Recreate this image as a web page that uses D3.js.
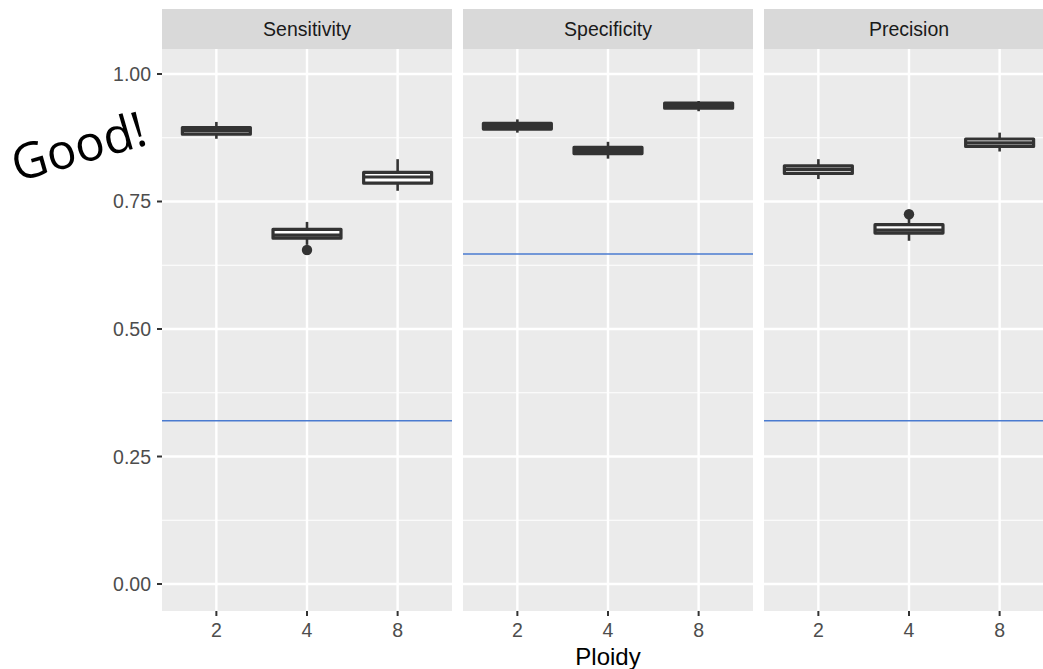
<!DOCTYPE html>
<html>
<head>
<meta charset="utf-8">
<script src="https://cdn.jsdelivr.net/npm/d3@7"></script>
<style>
  html, body { margin: 0; padding: 0; background: #ffffff; }
  svg { display: block; }
</style>
</head>
<body>
<script>
// ---- data ----
const ploidy = ["2", "4", "8"];
const metrics = ["Sensitivity", "Specificity", "Precision"];
const lowerWhisker = [[0.873, 0.665, 0.771], [0.885, 0.834, 0.927], [0.794, 0.673, 0.848]];
const q1Values     = [[0.882, 0.678, 0.786], [0.892, 0.844, 0.933], [0.805, 0.688, 0.858]];
const medianValues = [[0.889, 0.684, 0.798], [0.897, 0.850, 0.938], [0.813, 0.694, 0.865]];
const q3Values     = [[0.895, 0.6955, 0.807], [0.903, 0.856, 0.943], [0.820, 0.7045, 0.8725]];
const upperWhisker = [[0.906, 0.710, 0.833], [0.911, 0.867, 0.947], [0.833, 0.717, 0.885]];
const outlierValues = [[[], [0.655], []], [[], [], []], [[], [0.725], []]];
const referenceLine = [0.32, 0.647, 0.32];
const yTicks = [0, 0.25, 0.5, 0.75, 1.0];
const yMinor = [0.125, 0.375, 0.625, 0.875];
const xTitle = "Ploidy";
const annotation = "Good!";

// ---- layout ----
const W = 1043, H = 669;
const panelTop = 49, panelBottom = 611, stripTop = 9;
const panelW = 290;
const panelLefts = [162, 463, 764];

const svg = d3.select("body").append("svg")
  .attr("width", W).attr("height", H)
  .style("font-family", "'Liberation Sans', Arial, Helvetica, sans-serif");

const y = d3.scaleLinear().domain([-0.0529, 1.0490]).range([panelBottom, panelTop]);

metrics.forEach((m, i) => {
  const left = panelLefts[i];
  const x = d3.scalePoint().domain(ploidy).range([left, left + panelW]).padding(0.6);
  const step = x.step();
  const g = svg.append("g");

  // background
  g.append("rect").attr("x", left).attr("y", panelTop)
    .attr("width", panelW).attr("height", panelBottom - panelTop).attr("fill", "#EBEBEB");
  // minor grid
  g.selectAll(".ymin").data(yMinor).enter().append("line")
    .attr("x1", left).attr("x2", left + panelW)
    .attr("y1", d => y(d)).attr("y2", d => y(d))
    .attr("stroke", "#ffffff").attr("stroke-width", 1.2);
  // major grid
  g.selectAll(".ymaj").data(yTicks).enter().append("line")
    .attr("x1", left).attr("x2", left + panelW)
    .attr("y1", d => y(d)).attr("y2", d => y(d))
    .attr("stroke", "#ffffff").attr("stroke-width", 2.4);
  g.selectAll(".xmaj").data(ploidy).enter().append("line")
    .attr("x1", d => x(d)).attr("x2", d => x(d))
    .attr("y1", panelTop).attr("y2", panelBottom)
    .attr("stroke", "#ffffff").attr("stroke-width", 2.4);

  // strip
  g.append("rect").attr("x", left).attr("y", stripTop)
    .attr("width", panelW).attr("height", panelTop - stripTop).attr("fill", "#D9D9D9");
  g.append("text").attr("x", left + panelW / 2).attr("y", (stripTop + panelTop) / 2 + 7)
    .attr("text-anchor", "middle").attr("font-size", 19.5).attr("fill", "#1A1A1A").text(m);

  // reference line
  g.append("line").attr("x1", left).attr("x2", left + panelW)
    .attr("y1", y(referenceLine[i])).attr("y2", y(referenceLine[i]))
    .attr("stroke", "#4A7BD0").attr("stroke-width", 1.4);

  // boxplots
  const bw = step * 0.75;
  ploidy.forEach((p, j) => {
    const cx = x(p);
    const col = "#333333";
    g.append("line").attr("x1", cx).attr("x2", cx)
      .attr("y1", y(upperWhisker[i][j])).attr("y2", y(q3Values[i][j]))
      .attr("stroke", col).attr("stroke-width", 2.6);
    g.append("line").attr("x1", cx).attr("x2", cx)
      .attr("y1", y(q1Values[i][j])).attr("y2", y(lowerWhisker[i][j]))
      .attr("stroke", col).attr("stroke-width", 2.6);
    g.append("rect").attr("x", cx - bw / 2).attr("y", y(q3Values[i][j]))
      .attr("width", bw).attr("height", y(q1Values[i][j]) - y(q3Values[i][j]))
      .attr("fill", "#ffffff").attr("stroke", col).attr("stroke-width", 3.2)
      .attr("stroke-linejoin", "round");
    g.append("line").attr("x1", cx - bw / 2).attr("x2", cx + bw / 2)
      .attr("y1", y(medianValues[i][j])).attr("y2", y(medianValues[i][j]))
      .attr("stroke", col).attr("stroke-width", 3.2);
    outlierValues[i][j].forEach(v => {
      g.append("circle").attr("cx", cx).attr("cy", y(v)).attr("r", 5.2).attr("fill", col);
    });
  });

  // x axis ticks
  g.selectAll(".xt").data(ploidy).enter().append("line")
    .attr("x1", d => x(d)).attr("x2", d => x(d))
    .attr("y1", panelBottom).attr("y2", panelBottom + 5)
    .attr("stroke", "#333333").attr("stroke-width", 2);
  g.selectAll(".xl").data(ploidy).enter().append("text")
    .attr("x", d => x(d)).attr("y", panelBottom + 26)
    .attr("text-anchor", "middle").attr("font-size", 19.5).attr("fill", "#4D4D4D").text(d => d);

  if (i === 0) {
    g.selectAll(".yt").data(yTicks).enter().append("line")
      .attr("x1", left - 5).attr("x2", left)
      .attr("y1", d => y(d)).attr("y2", d => y(d))
      .attr("stroke", "#333333").attr("stroke-width", 2);
    g.selectAll(".yl").data(yTicks).enter().append("text")
      .attr("x", left - 11).attr("y", d => y(d) + 7)
      .attr("text-anchor", "end").attr("font-size", 19.5).attr("fill", "#4D4D4D")
      .text(d => d3.format(".2f")(d));
  }
});

// axis title
svg.append("text").attr("x", 608).attr("y", 665).attr("text-anchor", "middle")
  .attr("font-size", 24).attr("fill", "#000000").text(xTitle);

// annotation
svg.append("text").attr("transform", "translate(17,182) rotate(-16)")
  .attr("font-family", "'Open Sans', 'DejaVu Sans', sans-serif")
  .attr("font-size", 49).attr("fill", "#000000").text(annotation);
</script>
</body>
</html>
